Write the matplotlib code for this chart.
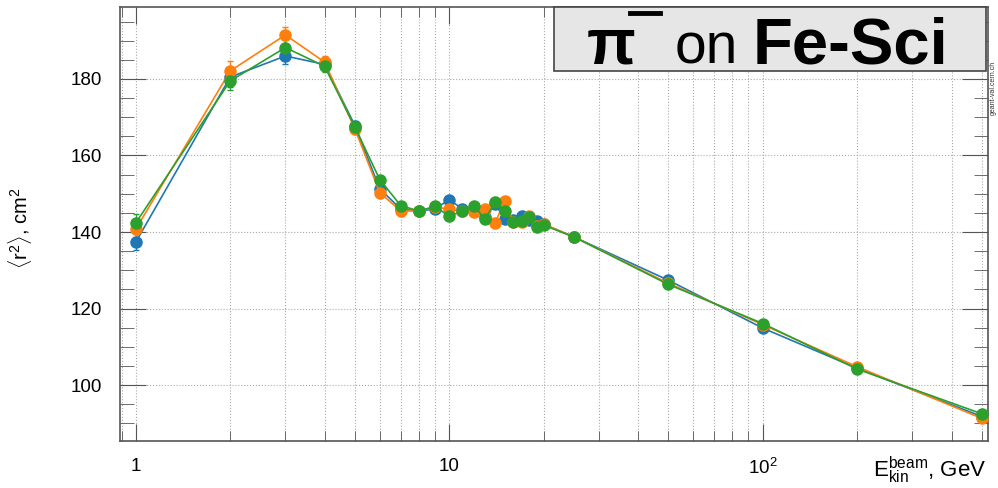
import matplotlib
matplotlib.use('Agg')
import matplotlib.pyplot as plt
from matplotlib.ticker import MultipleLocator, LogLocator, NullFormatter, FixedLocator, FixedFormatter
from matplotlib.lines import Line2D
from matplotlib.patches import Rectangle

plt.rcParams['font.family'] = ['Liberation Sans', 'DejaVu Sans']
plt.rcParams['mathtext.fontset'] = 'custom'
plt.rcParams['mathtext.rm'] = 'Liberation Sans'
plt.rcParams['mathtext.it'] = 'Liberation Sans:italic'
plt.rcParams['mathtext.bf'] = 'Liberation Sans:bold'

# beam kinetic energy, GeV
energia = [1, 2, 3, 4, 5, 6, 7, 8, 9, 10, 11, 12, 13, 14, 15, 16, 17, 18, 19, 20,
           25, 50, 100, 200, 500]

# <r^2>, cm^2 for the three series
r2_azul = [137.4, 180.5, 186.0, 183.8, 167.8, 151.3, 146.0, 145.5, 146.0, 148.5,
           146.0, 146.2, 143.9, 147.4, 143.4, 143.2, 144.3, 143.2, 143.0, 142.0,
           138.7, 127.4, 114.9, 104.4, 91.8]
r2_naranja = [140.8, 182.1, 191.5, 184.4, 166.9, 150.3, 145.5, 145.5, 146.5, 146.0,
              145.4, 145.2, 146.0, 142.4, 148.0, 142.7, 142.6, 144.3, 141.7, 142.1,
              138.7, 126.6, 115.8, 104.8, 91.3]
r2_verde = [142.4, 179.5, 188.2, 183.3, 167.4, 153.7, 146.9, 145.5, 146.7, 144.1,
            145.5, 146.8, 143.4, 147.8, 145.6, 142.7, 143.0, 143.9, 141.2, 141.8,
            138.7, 126.3, 116.1, 104.2, 92.5]
error = [2.2, 2.5, 2.0, 1.6, 1.2, 1.0, 1.0, 0.9, 0.9, 0.9, 0.8, 0.8, 0.8, 0.8, 0.8,
         0.7, 0.7, 0.7, 0.7, 0.7, 0.6, 0.6, 0.5, 0.5, 0.5]

series = [(r2_azul, '#1f77b4'), (r2_naranja, '#ff7f0e'), (r2_verde, '#2ca02c')]

fig = plt.figure(figsize=(9.98, 4.88), dpi=100)
ax = fig.add_axes([120/998, 1 - 441/488, (988 - 120)/998, (441 - 7)/488])

for y, c in series:
    ax.errorbar(energia, y, yerr=error, color=c, marker='o', markersize=8,
                lw=1.2, elinewidth=1.0, capsize=2, zorder=3)

ax.set_xscale('log')
ax.set_xlim(0.89, 523)
ax.set_ylim(85.4, 198.8)

ax.xaxis.set_major_locator(FixedLocator([1, 10, 100]))
ax.xaxis.set_major_formatter(FixedFormatter(['1', '10', '$10^{2}$']))
ax.xaxis.set_minor_locator(LogLocator(base=10, subs=range(2, 10), numticks=20))
ax.xaxis.set_minor_formatter(NullFormatter())
ax.yaxis.set_major_locator(MultipleLocator(20))
ax.yaxis.set_minor_locator(MultipleLocator(5))

ax.tick_params(axis='both', which='both', direction='in', top=True, right=True,
               labelsize=13.5, colors='#555555', labelcolor='black')
ax.tick_params(axis='y', which='major', length=19, pad=13)
ax.tick_params(axis='y', which='minor', length=10)
ax.tick_params(axis='x', which='major', length=12, pad=12)
ax.tick_params(axis='x', which='minor', length=7)

ax.grid(True, axis='x', which='both', ls=':', lw=0.8, color='#aaaaaa')
ax.grid(True, axis='y', which='major', ls=':', lw=0.8, color='#aaaaaa')
for s in ax.spines.values():
    s.set_color('#555555')
    s.set_linewidth(1.2)

fig.text(20/998, 1 - 228/488, r'$\langle \mathrm{r}^{2}\rangle$, cm$^{2}$', fontsize=14.5,
         rotation=90, ha='center', va='center')
fig.text(986/998, 2/488, r'E$_{\mathrm{kin}}^{\mathrm{beam}}$, GeV', fontsize=16,
         ha='right', va='bottom')

# title box
fig.patches.append(Rectangle((554/998, 1 - 71/488), (986 - 554)/998, (71 - 7)/488,
                             transform=fig.transFigure, facecolor='#e6e6e6',
                             edgecolor='#444444', lw=1.2, zorder=5))
base = 1 - 63/488
fig.text(587/998, base, 'π', fontsize=46, fontweight='bold', va='baseline', zorder=6)
fig.lines.append(Line2D([630/998, 660/998], [1 - 13/488, 1 - 13/488],
                        transform=fig.transFigure, color='black', lw=3.5, zorder=6))
fig.text(675/998, base, 'on', fontsize=41, va='baseline', zorder=6)
fig.text(753/998, base, 'Fe-Sci', fontsize=47, fontweight='bold', va='baseline', zorder=6)

fig.text(993/998, 400/488, 'geant-val.cern.ch', fontsize=5, rotation=90,
         ha='center', va='center', color='#333333')

fig.savefig('out.png', dpi=100)
